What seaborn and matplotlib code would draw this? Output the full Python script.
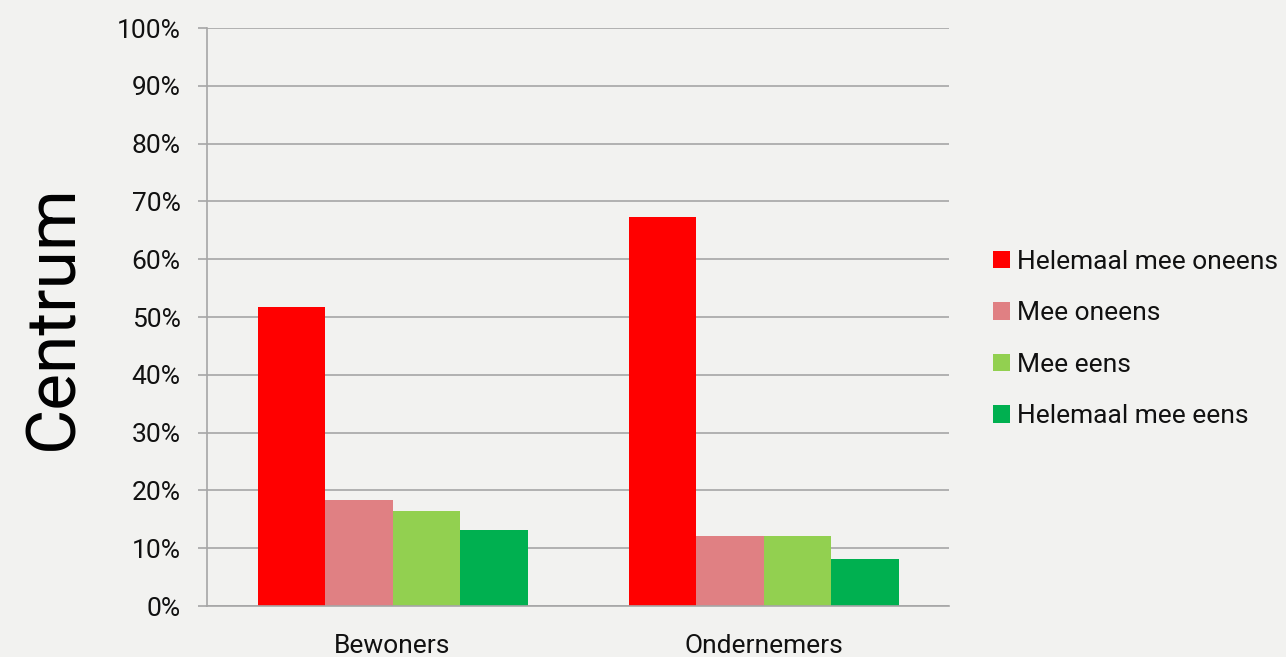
import numpy as np
import pandas as pd
import seaborn as sns
import matplotlib.pyplot as plt
from matplotlib.ticker import PercentFormatter, FixedLocator

groups = ['Bewoners', 'Ondernemers']
answers = ['Helemaal mee oneens', 'Mee oneens', 'Mee eens', 'Helemaal mee eens']
helemaal_oneens = [51.8, 67.3]
oneens = [18.3, 12.2]
eens = [16.5, 12.2]
helemaal_eens = [13.2, 8.1]
colors = ['#FF0000', '#E08083', '#92D050', '#00B050']

rows = []
for ans, vals in zip(answers, [helemaal_oneens, oneens, eens, helemaal_eens]):
    for g, v in zip(groups, vals):
        rows.append({'groep': g, 'antwoord': ans, 'pct': v})
df = pd.DataFrame(rows)

sns.set_style('white')
plt.rcParams['font.family'] = ['Roboto', 'DejaVu Sans']
bg = '#F2F2F0'
grid = '#A6A6A6'

fig = plt.figure(figsize=(12.86, 6.57), dpi=100, facecolor=bg)
ax = fig.add_axes([0.161, 0.0776, 0.577, 0.8797])
ax.set_facecolor(bg)

sns.barplot(data=df, x='groep', y='pct', hue='antwoord', hue_order=answers,
            order=groups, palette=colors, width=0.728, saturation=1,
            linewidth=0, ax=ax, legend=True)

ax.set_ylim(0, 100)
ax.set_xlim(-0.5, 1.5)
ax.set_yticks(np.arange(0, 101, 10))
ax.yaxis.set_major_formatter(PercentFormatter(decimals=0))
ax.yaxis.grid(True, color=grid, linewidth=1.2)
ax.set_axisbelow(True)

ax.xaxis.set_minor_locator(FixedLocator([-0.5, 0.5, 1.5]))
ax.tick_params(axis='x', which='major', length=0, labelsize=19, pad=20, colors='#111111')
ax.tick_params(axis='x', which='minor', length=9, width=1.2, color=grid, direction='out')
ax.tick_params(axis='y', length=6.5, width=1.2, color=grid, labelsize=19, pad=12.5,
               labelcolor='#111111', left=True)

for s in ['top', 'right']:
    ax.spines[s].set_visible(False)
for s in ['left', 'bottom']:
    ax.spines[s].set_color(grid)
    ax.spines[s].set_linewidth(1.2)

ax.set_xlabel('')
ax.set_ylabel('Centrum', fontsize=50, labelpad=22, color='#000000')

leg = ax.legend(loc='center left', bbox_to_anchor=(1.027, 0.462), frameon=False,
                fontsize=19, handlelength=0.65, handleheight=0.65,
                handletextpad=0.28, labelspacing=1.04)
for t in leg.get_texts():
    t.set_color('#111111')

fig.savefig('out.png', dpi=100, facecolor=bg)
